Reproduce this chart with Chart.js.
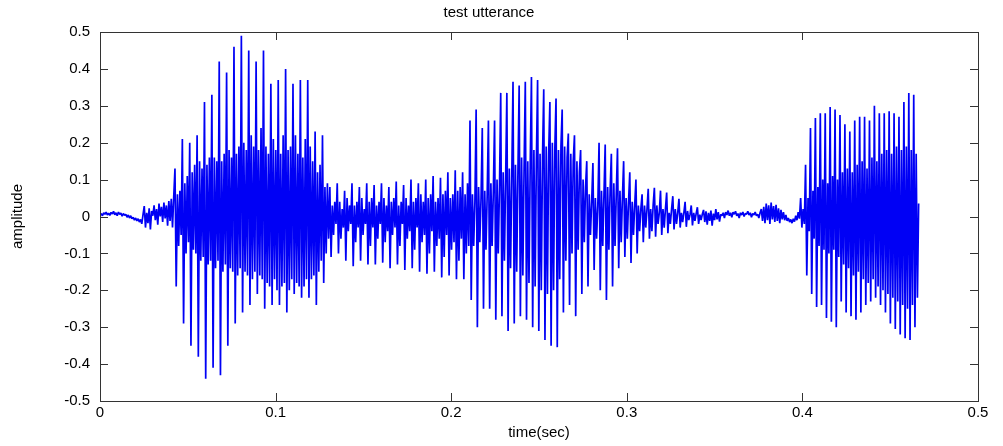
<!DOCTYPE html>
<html>
<head>
<meta charset="utf-8">
<script src="https://cdn.jsdelivr.net/npm/chart.js@4.4.1/dist/chart.umd.min.js"></script>
<style>
  html, body { margin: 0; padding: 0; background: #fff; }
  #wrap { width: 1003px; height: 446px; }
</style>
</head>
<body>
<div id="wrap"><canvas id="chart" width="1003" height="446"></canvas></div>
<script>
// sampling interval of the plotted waveform (seconds)
const sampleStep = 0.0007;

// leading silence, 0 - 0.043 s
const silenceStart = [
    0.004, 0.008, 0.002, 0.010, 0.006, 0.012, 0.004, 0.009, 0.003, 0.011,
    0.007, 0.014, 0.005, 0.010, 0.002, 0.012, 0.006, 0.009, 0.001, 0.008,
    0.003, 0.006, -0.002, 0.004, -0.004, 0.002, -0.006, -0.002, -0.010, -0.004,
    -0.012, -0.006, -0.015, -0.008, -0.020, 0.005, 0.028, -0.030, 0.010, -0.018,
    0.022, -0.035, 0.015, 0.002, 0.030, -0.010, 0.020, -0.022, 0.035, 0.000,
    0.026, -0.015, 0.038, -0.005, 0.030, -0.025, 0.042, -0.012, 0.048, -0.030,
    0.055
];

// first voiced part, 0.043 - 0.131 s
const voiced1 = [
    0.13, -0.19, 0.06, -0.08, 0.07, -0.05,
    0.21, -0.29, 0.09, -0.10, 0.11, -0.07,
    0.20, -0.35, 0.12, -0.09, 0.14, -0.10,
    0.22, -0.38, 0.15, -0.12, 0.13, -0.11,
    0.31, -0.44, 0.14, -0.13, 0.16, -0.12,
    0.33, -0.41, 0.16, -0.14, 0.15, -0.12,
    0.42, -0.43, 0.15, -0.15, 0.17, -0.13,
    0.39, -0.35, 0.18, -0.14, 0.16, -0.15,
    0.46, -0.29, 0.17, -0.16, 0.19, -0.14,
    0.49, -0.26, 0.20, -0.15, 0.18, -0.16,
    0.45, -0.24, 0.22, -0.17, 0.19, -0.15,
    0.42, -0.21, 0.18, -0.16, 0.24, -0.17,
    0.45, -0.25, 0.19, -0.18, 0.17, -0.19,
    0.36, -0.24, 0.21, -0.17, 0.18, -0.20,
    0.37, -0.24, 0.17, -0.19, 0.22, -0.18,
    0.40, -0.26, 0.18, -0.20, 0.19, -0.17,
    0.36, -0.21, 0.22, -0.18, 0.17, -0.19,
    0.37, -0.22, 0.16, -0.19, 0.21, -0.17,
    0.37, -0.22, 0.19, -0.17, 0.15, -0.16,
    0.23, -0.24, 0.12, -0.15, 0.14, -0.12,
    0.22, -0.18, 0.08, -0.10, 0.09, -0.06
];

// low, even stretch, 0.131 - 0.211 s
const voiced2 = [
    0.08, -0.11, 0.03, -0.05, 0.04, -0.02,
    0.09, -0.10, 0.04, -0.06, 0.02, -0.03,
    0.07, -0.12, 0.05, -0.04, 0.03, -0.02,
    0.09, -0.135, 0.03, -0.07, 0.04, -0.03,
    0.08, -0.12, 0.05, -0.05, 0.02, -0.02,
    0.09, -0.13, 0.04, -0.08, 0.05, -0.03,
    0.085, -0.13, 0.03, -0.06, 0.04, -0.02,
    0.09, -0.125, 0.05, -0.07, 0.03, -0.04,
    0.08, -0.14, 0.04, -0.05, 0.05, -0.03,
    0.095, -0.13, 0.03, -0.08, 0.04, -0.02,
    0.085, -0.145, 0.05, -0.06, 0.03, -0.04,
    0.10, -0.14, 0.04, -0.09, 0.05, -0.03,
    0.09, -0.15, 0.06, -0.07, 0.04, -0.05,
    0.10, -0.155, 0.05, -0.10, 0.06, -0.04,
    0.11, -0.15, 0.04, -0.08, 0.05, -0.06,
    0.105, -0.165, 0.06, -0.11, 0.07, -0.05,
    0.12, -0.16, 0.05, -0.09, 0.06, -0.07,
    0.125, -0.17, 0.07, -0.12, 0.08, -0.06,
    0.12, -0.17, 0.06, -0.10, 0.09, -0.08
];

// second loud part, 0.211 - 0.302 s
const voiced3 = [
    0.26, -0.226, 0.06, -0.08, 0.04,
    0.29, -0.30, 0.08, -0.07, 0.05,
    0.24, -0.25, 0.07, -0.09, 0.06,
    0.26, -0.25, 0.09, -0.08, 0.07,
    0.26, -0.28, 0.10, -0.10, 0.08,
    0.335, -0.27, 0.12, -0.12, 0.10,
    0.335, -0.31, 0.13, -0.14, 0.11,
    0.365, -0.29, 0.14, -0.15, 0.12,
    0.355, -0.27, 0.16, -0.16, 0.13,
    0.365, -0.28, 0.15, -0.18, 0.14,
    0.378, -0.30, 0.18, -0.19, 0.15,
    0.37, -0.31, 0.17, -0.20, 0.16,
    0.345, -0.335, 0.19, -0.21, 0.17,
    0.31, -0.35, 0.20, -0.20, 0.18,
    0.32, -0.354, 0.18, -0.17, 0.19,
    0.29, -0.26, 0.19, -0.12, 0.16,
    0.225, -0.24, 0.17, -0.10, 0.15,
    0.22, -0.27, 0.15, -0.09, 0.12,
    0.18, -0.21, 0.10, -0.07, 0.08,
    0.15, -0.19, 0.06, -0.05, 0.04,
    0.145, -0.145, 0.05, -0.06, 0.03,
    0.20, -0.20, 0.07, -0.08, 0.06,
    0.195, -0.226, 0.08, -0.09, 0.07,
    0.17, -0.19, 0.09, -0.08, 0.06,
    0.185, -0.14, 0.07, -0.07, 0.05,
    0.15, -0.11, 0.05, -0.06, 0.04
];

// decay, 0.302 - 0.344 s
const decay = [
    0.12, -0.126, 0.04, -0.05, 0.03,
    0.10, -0.10, 0.03, -0.04, 0.02,
    0.06, -0.07, 0.03, -0.03, 0.02,
    0.075, -0.06, 0.02, -0.04, 0.03,
    0.078, -0.055, 0.03, -0.02, 0.01,
    0.07, -0.05, 0.02, -0.03, 0.02,
    0.065, -0.045, 0.01, -0.02, 0.02,
    0.055, -0.035, 0.02, -0.02, 0.01,
    0.048, -0.03, 0.01, -0.015, 0.01,
    0.04, -0.028, 0.015, -0.01, 0.005,
    0.03, -0.024, 0.01, -0.012, 0.008,
    0.025, -0.02, 0.005, -0.01, 0.006
];

// quiet gap, 0.344 - 0.399 s
const silenceMid = [
    0.018, -0.015, 0.014, -0.022, 0.010, -0.012, 0.016, -0.025, 0.008, -0.010,
    0.020, -0.008, 0.012, -0.014, 0.006, 0.002, 0.010, -0.004, 0.012, 0.004,
    0.016, 0.002, 0.010, -0.002, 0.012, 0.006, 0.014, 0.002, 0.008, -0.004,
    0.010, 0.004, 0.012, 0.000, 0.008, 0.006, 0.014, 0.004, 0.010, -0.002,
    0.008, 0.004, 0.012, 0.002, 0.006, -0.004, 0.010, 0.020, -0.012, 0.026,
    -0.018, 0.035, -0.010, 0.030, -0.020, 0.038, -0.008, 0.028, -0.015, 0.032,
    -0.012, 0.022, -0.018, 0.018, -0.008, 0.012, -0.010, 0.004, -0.012, -0.004,
    -0.015, -0.008, -0.018, -0.006, -0.014, 0.002, -0.010, 0.012, -0.006
];

// last voiced part, 0.399 - 0.466 s
const voiced4 = [
    0.05, -0.03, 0.02, -0.02,
    0.14, -0.16, 0.05, -0.04,
    0.24, -0.21, 0.07, -0.06,
    0.267, -0.245, 0.08, -0.08,
    0.28, -0.24, 0.10, -0.09,
    0.28, -0.275, 0.09, -0.10,
    0.297, -0.285, 0.11, -0.09,
    0.29, -0.30, 0.10, -0.11,
    0.275, -0.23, 0.12, -0.13,
    0.25, -0.26, 0.13, -0.14,
    0.23, -0.27, 0.12, -0.16,
    0.26, -0.28, 0.14, -0.15,
    0.27, -0.26, 0.15, -0.17,
    0.27, -0.24, 0.13, -0.18,
    0.26, -0.23, 0.16, -0.17,
    0.30, -0.22, 0.15, -0.19,
    0.28, -0.24, 0.17, -0.20,
    0.28, -0.26, 0.18, -0.21,
    0.285, -0.29, 0.17, -0.22,
    0.28, -0.305, 0.19, -0.23,
    0.27, -0.32, 0.18, -0.24,
    0.31, -0.33, 0.19, -0.25,
    0.335, -0.335, 0.18, -0.24,
    0.33, -0.30, 0.17, -0.22,
    0.035
];

const xTicks = [0, 0.1, 0.2, 0.3, 0.4, 0.5];

const samples = [].concat(silenceStart, voiced1, voiced2, voiced3, decay, silenceMid, voiced4);
const points = samples.map((v, i) => ({ x: i * sampleStep, y: v }));

// inward tick marks and the box round the plot
const frameTicks = {
    id: 'frameTicks',
    afterDatasetsDraw(chart) {
        const { ctx, chartArea: a, scales: { x, y } } = chart;
        const len = 8;
        ctx.save();
        ctx.strokeStyle = '#333';
        ctx.lineWidth = 1;
        ctx.strokeRect(a.left + 0.5, a.top + 0.5, a.right - a.left, a.bottom - a.top);
        ctx.beginPath();
        x.ticks.forEach(t => {
            const px = Math.round(x.getPixelForValue(t.value)) + 0.5;
            ctx.moveTo(px, a.bottom); ctx.lineTo(px, a.bottom - len);
            ctx.moveTo(px, a.top); ctx.lineTo(px, a.top + len);
        });
        y.ticks.forEach(t => {
            const py = Math.round(y.getPixelForValue(t.value)) + 0.5;
            ctx.moveTo(a.left, py); ctx.lineTo(a.left + len, py);
            ctx.moveTo(a.right, py); ctx.lineTo(a.right - len, py);
        });
        ctx.stroke();
        ctx.restore();
    }
};

const font = { family: '"Liberation Sans", Arial, sans-serif', size: 15 };

new Chart(document.getElementById('chart').getContext('2d'), {
    type: 'line',
    data: {
        datasets: [{
            data: points,
            borderColor: '#0000f5',
            borderWidth: 1.7,
            borderJoinStyle: 'bevel',
            pointRadius: 0,
            tension: 0,
            fill: false
        }]
    },
    options: {
        responsive: false,
        animation: false,
        events: [],
        layout: { padding: { left: 0, right: 25, top: 0, bottom: 0 } },
        plugins: {
            legend: { display: false },
            tooltip: { enabled: false },
            title: {
                display: true,
                text: 'test utterance',
                color: '#000',
                font: { family: font.family, size: 15, weight: 'normal' },
                padding: { top: 4, bottom: 10 }
            }
        },
        scales: {
            x: {
                type: 'linear',
                min: 0,
                max: 0.5,
                afterFit: s => { s.height = 45; },
                afterBuildTicks: s => { s.ticks = xTicks.map(v => ({ value: v })); },
                ticks: {
                    color: '#000',
                    font: font,
                    padding: 3,
                    maxRotation: 0,
                    callback: v => String(v)
                },
                grid: { display: false, drawTicks: false },
                border: { display: false },
                title: {
                    display: true,
                    text: 'time(sec)',
                    color: '#000',
                    font: { family: font.family, size: 15 },
                    padding: { top: 0, bottom: 4 }
                }
            },
            y: {
                min: -0.5,
                max: 0.5,
                afterFit: s => { s.width = 100; },
                ticks: {
                    stepSize: 0.1,
                    color: '#000',
                    font: font,
                    padding: 10,
                    callback: v => String(Number(v.toFixed(1)))
                },
                grid: { display: false, drawTicks: false },
                border: { display: false },
                title: {
                    display: true,
                    text: 'amplitude',
                    color: '#000',
                    font: { family: font.family, size: 15 },
                    padding: { top: 9, bottom: 0 }
                }
            }
        }
    },
    plugins: [frameTicks]
});
</script>
</body>
</html>
